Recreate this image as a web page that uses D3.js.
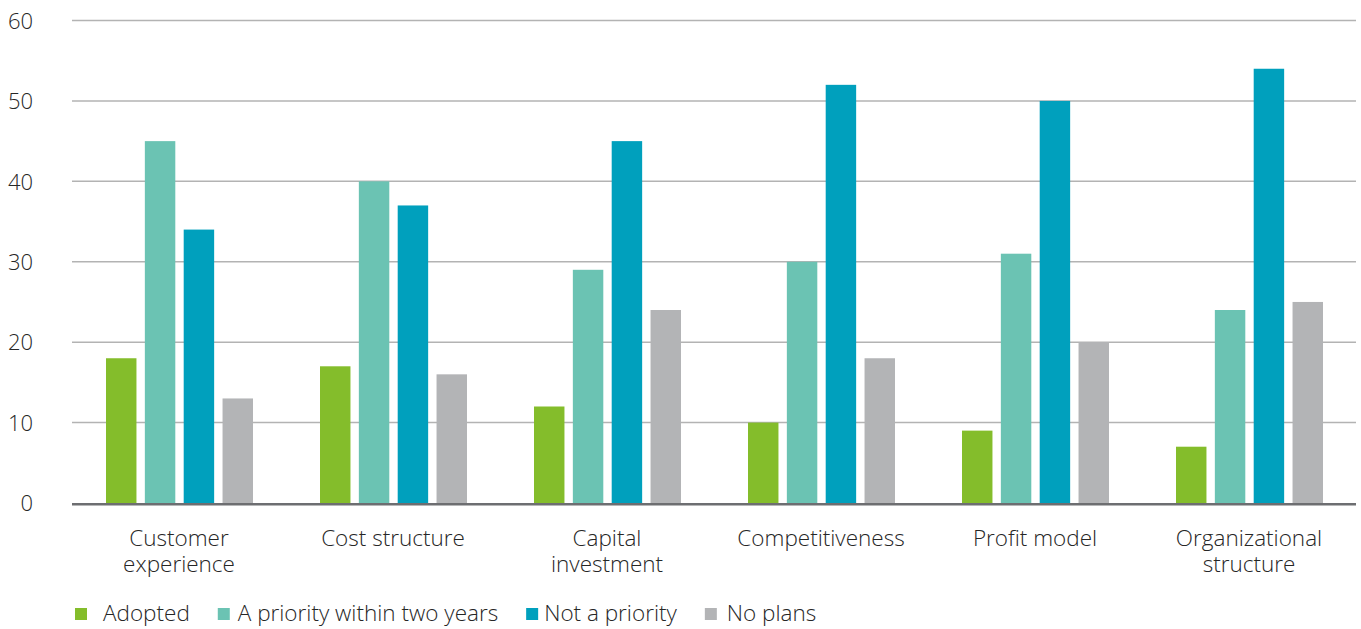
<!DOCTYPE html>
<html>
<head>
<meta charset="utf-8">
<script src="https://cdn.jsdelivr.net/npm/d3@7"></script>
<style>
  html, body { margin: 0; padding: 0; background: #ffffff; }
  svg { display: block; }
  text { font-family: "Open Sans", "Noto Sans", sans-serif; font-weight: 300; fill: #262626; }
</style>
</head>
<body>
<svg id="chart" width="1361" height="629"></svg>
<script>
// Survey responses (%) by business area
const categories = [
  ["Customer", "experience"],
  ["Cost structure"],
  ["Capital", "investment"],
  ["Competitiveness"],
  ["Profit model"],
  ["Organizational", "structure"]
];
const seriesNames = ["Adopted", "A priority within two years", "Not a priority", "No plans"];
const adopted       = [18, 17, 12, 10, 9, 7];
const priorityTwoYr = [45, 40, 29, 30, 31, 24];
const notPriority   = [34, 37, 45, 52, 50, 54];
const noPlans       = [13, 16, 24, 18, 20, 25];
const yTicks = [0, 10, 20, 30, 40, 50, 60];
const colors = ["#84bd2b", "#6bc3b3", "#00a0bd", "#b3b4b6"];

const seriesValues = [adopted, priorityTwoYr, notPriority, noPlans];
const rows = categories.map((c, i) => ({
  key: c.join(" "),
  lines: c,
  values: seriesValues.map((s, k) => ({ series: seriesNames[k], value: s[i] }))
}));

const svg = d3.select("#chart");
const plotLeft = 72, plotRight = 1356, plotTop = 20.5, plotBottom = 503;
const fontSize = 22.5;

const x0 = d3.scaleBand().domain(rows.map(d => d.key)).range([plotLeft, plotRight]).padding(0);
const x1 = d3.scaleBand().domain(seriesNames)
  .range([34, 34 + 147]).paddingInner(0.216).paddingOuter(0);
const y = d3.scaleLinear().domain([0, 60]).range([plotBottom, plotTop]);

// gridlines
svg.append("g").selectAll("line").data(yTicks.filter(t => t > 0)).join("line")
  .attr("x1", plotLeft).attr("x2", plotRight)
  .attr("y1", d => y(d)).attr("y2", d => y(d))
  .attr("stroke", "#b3b3b3").attr("stroke-width", 1.5);

// y axis labels
const yAxis = d3.axisLeft(y).tickValues(yTicks).tickSize(0).tickPadding(0);
const ya = svg.append("g").attr("transform", "translate(33,0)").call(yAxis);
ya.select(".domain").remove();
ya.attr("font-family", null).attr("font-size", null);
ya.selectAll("text")
  .attr("dy", "0.35em")
  .style("font-size", "22px")
  .style("font-family", "'Open Sans', sans-serif").style("font-weight", 300).style("fill", "#262626");

// bars
const groups = svg.append("g").selectAll("g").data(rows).join("g")
  .attr("transform", d => `translate(${x0(d.key)},0)`);
groups.selectAll("rect").data(d => d.values).join("rect")
  .attr("x", d => x1(d.series))
  .attr("width", x1.bandwidth())
  .attr("y", d => y(d.value))
  .attr("height", d => y(0) - y(d.value))
  .attr("fill", (d, i) => colors[i]);

// baseline
svg.append("line")
  .attr("x1", plotLeft).attr("x2", plotRight)
  .attr("y1", y(0) + 1.3).attr("y2", y(0) + 1.3)
  .attr("stroke", "#6d6e71").attr("stroke-width", 2.5);

// category labels (two-line where the name is long)
const labels = svg.append("g").selectAll("text").data(rows).join("text")
  .attr("x", d => x0(d.key) + x0.bandwidth() / 2)
  .attr("y", 545.5)
  .attr("text-anchor", "middle")
  .attr("font-size", fontSize);
labels.selectAll("tspan").data(d => d.lines).join("tspan")
  .attr("x", function () { return d3.select(this.parentNode).attr("x"); })
  .attr("dy", (d, i) => i === 0 ? 0 : 26.5)
  .text(d => d);

// legend
const legend = svg.append("g").attr("transform", "translate(75,0)");
const textOffsets = [28, 20, 18, 22];
let cursor = 0;
seriesNames.forEach((name, i) => {
  const item = legend.append("g").attr("transform", `translate(${cursor},0)`);
  item.append("rect").attr("x", 0).attr("y", 608).attr("width", 12).attr("height", 12)
    .attr("fill", colors[i]);
  const tx = textOffsets[i];
  const t = item.append("text").attr("x", tx).attr("y", 621).attr("font-size", fontSize).text(name);
  cursor += tx + t.node().getComputedTextLength() + 28;
});
</script>
</body>
</html>
